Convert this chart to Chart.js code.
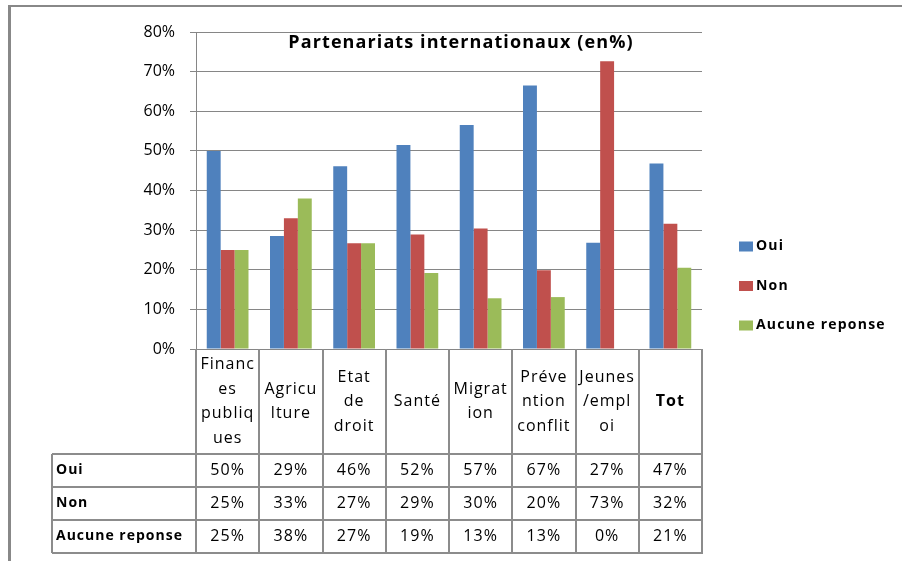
<!DOCTYPE html>
<html>
<head>
<meta charset="utf-8">
<title>Partenariats internationaux</title>
<script src="https://cdn.jsdelivr.net/npm/chart.js@4.4.0/dist/chart.umd.min.js"></script>
<style>
  html, body { margin: 0; padding: 0; background: #fff; }
  #wrap { width: 902px; height: 561px; }
</style>
</head>
<body>
<div id="wrap"><canvas id="myChart" width="902" height="561"></canvas></div>
<script>
// Daten
const categories = [
  ["Financ", "es", "publiq", "ues"],
  ["Agricu", "lture"],
  ["Etat", "de", "droit"],
  ["Santé"],
  ["Migrat", "ion"],
  ["Préve", "ntion", "conflit"],
  ["Jeunes", "/empl", "oi"],
  ["Tot"]
];
const oui = [50, 28.5, 46.1, 51.5, 56.5, 66.5, 26.8, 46.8];
const non = [25, 33, 26.7, 28.9, 30.4, 19.9, 72.6, 31.6];
const aucune = [25, 38, 26.7, 19.2, 12.8, 13.1, 0, 20.5];
const seriesNames = ["Oui", "Non", "Aucune reponse"];
const seriesColors = ["#4F81BD", "#C0504D", "#9BBB59"];
const yMax = 80;
const yStep = 10;
const chartTitle = "Partenariats internationaux (en%)";

const lineGray = "#868686";
const fontName = "'Open Sans', 'DejaVu Sans', sans-serif";

// Rahmen, Titel, Legende und Datentabelle
const tablePlugin = {
  id: 'tableau',
  beforeDraw(chart) {
    const ctx = chart.ctx;
    ctx.save();
    ctx.fillStyle = '#fff';
    ctx.fillRect(0, 0, chart.width, chart.height);
    ctx.fillStyle = '#888888';
    ctx.fillRect(8, 5, chart.width - 8, 2);   // oberer Rand
    ctx.fillRect(8, 5, 3, chart.height - 5);  // linker Rand
    ctx.restore();
  },
  afterDraw(chart) {
    const ctx = chart.ctx;
    const area = chart.chartArea;
    const xScale = chart.scales.x;
    const n = categories.length;
    const colW = (area.right - area.left) / n;
    const headBottom = 454;
    const rowH = 33;
    const tableLeft = 52;
    const tableBottom = headBottom + 3 * rowH;

    ctx.save();
    // Titel
    ctx.fillStyle = '#000';
    ctx.font = "bold 18px " + fontName;
    ctx.letterSpacing = '1.1px';
    ctx.textAlign = 'center';
    ctx.textBaseline = 'alphabetic';
    ctx.fillText(chartTitle, 461, 48);

    // Tabellenlinien
    ctx.strokeStyle = '#8c8c8c';
    ctx.lineWidth = 2;
    ctx.beginPath();
    for (let r = 0; r <= 3; r++) {
      const y = headBottom + r * rowH;
      ctx.moveTo(tableLeft, y);
      ctx.lineTo(area.right + 1, y);
    }
    ctx.moveTo(tableLeft, headBottom);
    ctx.lineTo(tableLeft, tableBottom);
    for (let i = 0; i <= n; i++) {
      const x = Math.round(area.left + i * colW);
      ctx.moveTo(x, area.bottom);
      ctx.lineTo(x, tableBottom + 1);
    }
    ctx.stroke();

    // Kategorien
    ctx.letterSpacing = '1px';
    ctx.textBaseline = 'middle';
    ctx.textAlign = 'center';
    const lineH = 24.5;
    const midHead = 401.5;
    categories.forEach(function(lines, i) {
      const cx = xScale.getPixelForValue(i);
      ctx.font = (i === n - 1 ? "bold " : "500 ") + "16px " + fontName;
      const y0 = midHead - (lines.length - 1) * lineH / 2;
      lines.forEach(function(t, k) {
        ctx.fillText(t, cx, y0 + k * lineH);
      });
    });

    // Werte
    const rows = [oui, non, aucune];
    rows.forEach(function(vals, r) {
      const cy = headBottom + r * rowH + rowH / 2;
      ctx.textAlign = 'left';
      ctx.letterSpacing = '1px';
      ctx.font = "bold 14px " + fontName;
      ctx.fillText(seriesNames[r], 56, cy);
      ctx.textAlign = 'center';
      ctx.font = "500 16px " + fontName;
      vals.forEach(function(v, i) {
        ctx.fillText(Math.round(v) + '%', xScale.getPixelForValue(i), cy);
      });
    });

    // Legende
    ctx.letterSpacing = '1.2px';
    ctx.font = "bold 14px " + fontName;
    ctx.textAlign = 'left';
    chart.data.datasets.forEach(function(ds, k) {
      const cy = 246.5 + k * 39.5;
      ctx.fillStyle = ds.backgroundColor;
      ctx.fillRect(739, cy - 5, 14, 10);
      ctx.fillStyle = '#000';
      ctx.fillText(ds.label, 756, cy);
    });
    ctx.restore();
  }
};

const config = {
  type: 'bar',
  data: {
    labels: categories,
    datasets: [
      { label: seriesNames[0], data: oui, backgroundColor: seriesColors[0] },
      { label: seriesNames[1], data: non, backgroundColor: seriesColors[1] },
      { label: seriesNames[2], data: aucune, backgroundColor: seriesColors[2] }
    ]
  },
  options: {
    responsive: false,
    animation: false,
    devicePixelRatio: 1,
    layout: { padding: { top: 32, right: 200, bottom: 212, left: 0 } },
    datasets: {
      bar: { categoryPercentage: 0.66, barPercentage: 1, borderWidth: 0 }
    },
    plugins: {
      legend: { display: false },
      title: { display: false },
      tooltip: { enabled: false }
    },
    scales: {
      x: { display: false },
      y: {
        min: 0,
        max: yMax,
        afterFit: function(scale) { scale.width = 196; },
        ticks: {
          stepSize: yStep,
          padding: 15,
          color: '#000',
          font: { family: fontName, size: 16, weight: '500' },
          callback: function(v) { return v + '%'; }
        },
        grid: { color: lineGray, lineWidth: 1, tickLength: 6, tickColor: lineGray },
        border: { display: true, color: lineGray, width: 1 }
      }
    }
  },
  plugins: [tablePlugin]
};

const ctx = document.getElementById('myChart').getContext('2d');
const myChart = new Chart(ctx, config);
</script>
</body>
</html>
